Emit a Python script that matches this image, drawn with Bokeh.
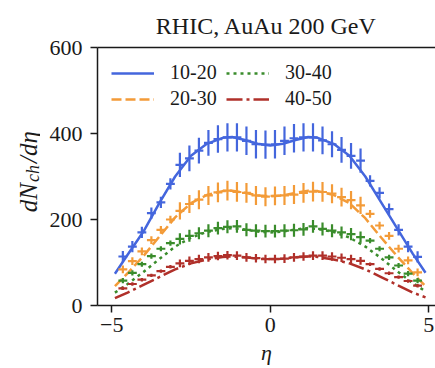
from bokeh.plotting import figure
from bokeh.layouts import row
from bokeh.models import (Range1d, FixedTicker, LinearAxis, Legend, LegendItem,
                          ColumnDataSource, CustomJSTickFormatter)
from bokeh.core.properties import value
from bokeh.embed import file_html
from bokeh.resources import INLINE
import math

# ---------------- data ----------------
eta = [-4.65, -4.35, -4.05, -3.75, -3.45, -3.15, -2.85, -2.55, -2.25, -1.95, -1.65, -1.35,
       -1.05, -0.75, -0.45, -0.15, 0.15, 0.45, 0.75, 1.05, 1.35, 1.65, 1.95, 2.25,
       2.55, 2.85, 3.15, 3.45, 3.75, 4.05, 4.35, 4.65]
eta_halfwidth = 0.14

c1020 = [114, 137, 170, 215, 240, 283, 327, 342, 360, 378, 387, 391,
         391, 383, 375, 374, 375, 383, 389, 391, 391, 384, 375, 362,
         348, 337, 290, 262, 224, 176, 137, 113]
c1020_err = [13, 13, 13, 13, 13, 13, 28, 30, 30, 30, 32, 33,
             33, 33, 33, 33, 33, 33, 33, 33, 33, 32, 30, 30,
             30, 28, 13, 13, 13, 13, 13, 13]

c2030 = [84, 103, 126, 152, 176, 200, 220, 236, 246, 256, 263, 267,
         264, 262, 256, 253, 255, 256, 258, 262, 265, 264, 260, 252,
         245, 233, 213, 186, 162, 132, 105, 77]
c2030_err = [9, 9, 9, 9, 9, 9, 20, 21, 22, 22, 23, 23,
             23, 23, 22, 22, 22, 22, 22, 23, 23, 23, 22, 22,
             21, 20, 9, 9, 9, 9, 9, 9]

c3040 = [58, 76, 96, 115, 132, 145, 155, 162, 168, 174, 180, 183,
         184, 176, 174, 173, 173, 174, 175, 177, 184, 178, 174, 170,
         166, 159, 151, 132, 112, 93, 74, 58]
c3040_err = [6, 6, 6, 6, 6, 6, 13, 14, 14, 15, 15, 15,
             15, 15, 15, 15, 15, 15, 15, 15, 15, 15, 15, 14,
             14, 13, 6, 6, 6, 6, 6, 6]

c4050 = [40, 50, 60, 70, 80, 90, 98, 104, 108, 112, 115, 117,
         116, 112, 110, 108, 108, 109, 112, 114, 116, 116, 114, 111,
         108, 104, 96, 85, 75, 66, 57, 46]
c4050_err = [4, 4, 4, 4, 4, 4, 9, 10, 10, 10, 10, 10,
             10, 10, 10, 10, 10, 10, 10, 10, 10, 10, 10, 10,
             10, 9, 4, 4, 4, 4, 4, 4]

eta_model = [-4.9, -4.5, -4.0, -3.5, -3.0, -2.5, -2.0, -1.5, -1.2, -0.8, -0.4, 0.0,
             0.4, 0.8, 1.2, 1.5, 2.0, 2.5, 3.0, 3.5, 4.0, 4.5, 4.9]
m1020 = [74, 118, 172, 238, 300, 348, 376, 390, 392, 385, 376, 372,
         376, 385, 392, 390, 376, 348, 300, 240, 180, 120, 76]
m2030 = [45, 75, 115, 160, 205, 238, 257, 266, 267, 262, 256, 254,
         256, 262, 267, 266, 257, 238, 203, 158, 115, 75, 45]
m3040 = [30, 50, 78, 108, 137, 158, 171, 178, 180, 177, 172, 170,
         172, 177, 180, 178, 171, 158, 137, 110, 80, 52, 33]
m4050 = [17, 30, 48, 66, 84, 98, 107, 113, 114, 112, 109, 108,
         109, 112, 114, 113, 107, 98, 84, 66, 48, 30, 19]

labels = ["10-20", "20-30", "30-40", "40-50"]
colors = ["#4466DD", "#F39B38", "#3A8C2C", "#B0302A"]
dashes = ["solid", "10 4", "3 4", "16 4 3 4"]

x_ticks = [-5, 0, 5]
y_ticks = [0, 200, 400, 600]

title_text = "RHIC, AuAu 200 GeV"
xlabel_text = "\u03b7"
ylabel_parts = ["dN", "ch", "/d\u03b7"]

FONT = "Liberation Serif"
INK = "#1a1a1a"
YL_W = 40

# ---------------- main figure ----------------
p = figure(width=435 - YL_W, height=368, output_backend="svg", toolbar_location=None,
           x_range=Range1d(-5.45, 5.215), y_range=Range1d(0, 600),
           min_border_left=97 - YL_W, min_border_right=0, min_border_top=47,
           min_border_bottom=63)
p.outline_line_color = None
p.xgrid.visible = False
p.ygrid.visible = False

p.title.text = title_text
p.title.align = "center"
p.title.offset = 8
p.title.standoff = 18
p.title.text_font = FONT
p.title.text_font_size = "24px"
p.title.text_font_style = "normal"
p.title.text_color = INK

for ax in (p.xaxis[0], p.yaxis[0]):
    ax.axis_line_width = 1.5
    ax.axis_line_color = INK
    ax.major_tick_line_width = 1.5
    ax.major_tick_line_color = INK
    ax.major_tick_out = 7
    ax.major_tick_in = 0
    ax.minor_tick_line_color = None
    ax.major_label_text_font = FONT
    ax.major_label_text_font_size = "22px"
    ax.major_label_text_color = INK
    ax.formatter = CustomJSTickFormatter(
        code="return tick < 0 ? '\u2212' + Math.abs(tick) : String(tick);")
p.xaxis[0].ticker = FixedTicker(ticks=x_ticks)
p.yaxis[0].ticker = FixedTicker(ticks=y_ticks)
p.yaxis[0].major_label_standoff = 8
p.xaxis[0].major_label_standoff = 5
p.xaxis[0].axis_label = xlabel_text
p.xaxis[0].axis_label_text_font = FONT
p.xaxis[0].axis_label_text_font_size = "22px"
p.xaxis[0].axis_label_text_font_style = "italic"
p.xaxis[0].axis_label_text_color = INK
p.xaxis[0].axis_label_standoff = 5

top = LinearAxis(ticker=FixedTicker(ticks=[]), major_label_text_font_size="0px",
                 axis_line_width=1.5, axis_line_color=INK,
                 major_tick_line_color=None, minor_tick_line_color=None)
p.add_layout(top, "above")

series = [(c1020, c1020_err, m1020), (c2030, c2030_err, m2030),
          (c3040, c3040_err, m3040), (c4050, c4050_err, m4050)]

line_renderers = []
for (vals, errs, model), col, dash in zip(series, colors, dashes):
    r = p.line(eta_model, model, line_color=col, line_width=2.5, line_dash=dash)
    line_renderers.append(r)

for (vals, errs, model), col in zip(series, colors):
    src = ColumnDataSource(dict(
        x=eta, y=vals,
        xl=[e - eta_halfwidth for e in eta], xr=[e + eta_halfwidth for e in eta],
        yl=[v - d for v, d in zip(vals, errs)], yh=[v + d for v, d in zip(vals, errs)]))
    p.segment(x0="x", y0="yl", x1="x", y1="yh", source=src, line_color=col, line_width=2.2)
    p.segment(x0="xl", y0="y", x1="xr", y1="y", source=src, line_color=col, line_width=2.2)

legend = Legend(items=[LegendItem(label=l, renderers=[r]) for l, r in zip(labels, line_renderers)],
                ncols=2, location="top_left", border_line_color=None,
                background_fill_alpha=0, margin=14, padding=12, spacing=3,
                glyph_width=43, glyph_height=20, label_standoff=16, label_width=53,
                label_text_font=FONT, label_text_font_size="20px", label_text_color=INK)
p.add_layout(legend)

# ---------------- y label strip (frame aligned with main frame: page y 47..305) ----------------
yl = figure(width=YL_W, height=368, output_backend="svg", toolbar_location=None,
            x_range=Range1d(0, YL_W), y_range=Range1d(305, 47),
            x_axis_type=None, y_axis_type=None,
            min_border_left=0, min_border_right=0, min_border_top=47, min_border_bottom=63)
yl.outline_line_color = None
yl.grid.visible = False
ang = math.pi / 2
yl.text(x=[28, 28], y=[211.7, 162.5], text=[ylabel_parts[0], ylabel_parts[2]],
        angle=ang, text_align="left", text_baseline="alphabetic",
        text_font=value(FONT), text_font_size="25px", text_font_style="italic", text_color=INK)
yl.text(x=[32], y=[181.5], text=[ylabel_parts[1]],
        angle=ang, text_align="left", text_baseline="alphabetic",
        text_font=value(FONT), text_font_size="18px", text_font_style="italic", text_color=INK)

layout = row(yl, p, spacing=0)
open("out.html", "w").write(file_html(layout, INLINE))
